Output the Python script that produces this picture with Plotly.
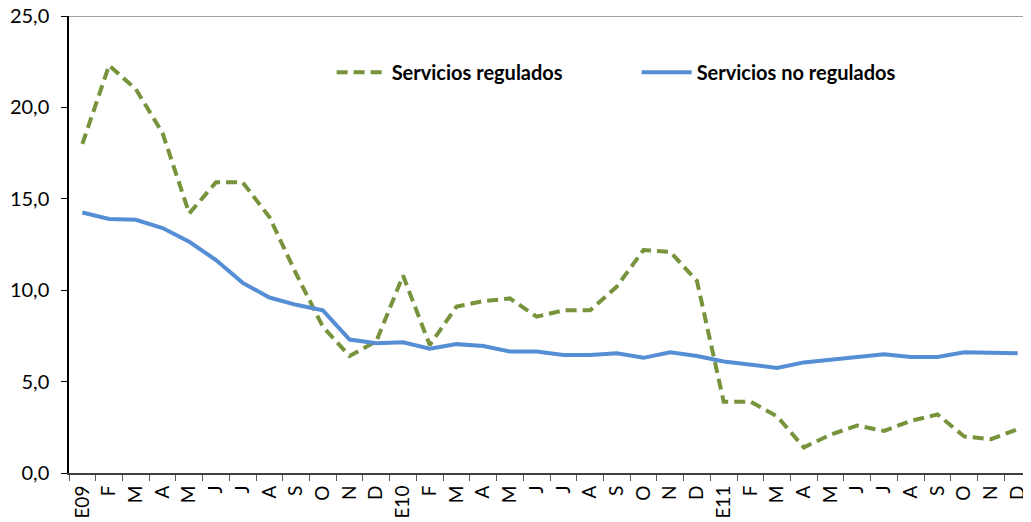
import plotly.graph_objects as go

categories = ["E09","F09","M09","A09","My09","Jn09","Jl09","Ag09","S09","O09","N09","D09",
              "E10","F10","M10","A10","My10","Jn10","Jl10","Ag10","S10","O10","N10","D10",
              "E11","F11","M11","A11","My11","Jn11","Jl11","Ag11","S11","O11","N11","D11"]
tick_labels = ["E09","F","M","A","M","J","J","A","S","O","N","D",
               "E10","F","M","A","M","J","J","A","S","O","N","D",
               "E11","F","M","A","M","J","J","A","S","O","N","D"]

regulados = [18.0, 22.3, 21.0, 18.6, 14.2, 15.9, 15.9, 14.0, 10.9, 8.0, 6.4, 7.2,
             10.8, 7.0, 9.1, 9.4, 9.55, 8.55, 8.9, 8.9, 10.2, 12.2, 12.1, 10.5,
             3.9, 3.9, 3.1, 1.4, 2.1, 2.6, 2.3, 2.85, 3.2, 2.0, 1.85, 2.4]
no_regulados = [14.25, 13.9, 13.85, 13.4, 12.65, 11.65, 10.4, 9.6, 9.2, 8.9, 7.3, 7.1,
                7.15, 6.8, 7.05, 6.95, 6.65, 6.65, 6.45, 6.45, 6.55, 6.3, 6.6, 6.4,
                6.1, 5.95, 5.75, 6.05, 6.2, 6.35, 6.5, 6.35, 6.35, 6.6, 6.6, 6.55]

FONT = "Lato, 'Open Sans', sans-serif"

fig = go.Figure()
fig.add_trace(go.Scatter(x=categories, y=regulados, mode="lines", name="Servicios regulados",
                         line=dict(color="#77933C", width=4, dash="11px,6px")))
fig.add_trace(go.Scatter(x=categories, y=no_regulados, mode="lines", name="Servicios no regulados",
                         line=dict(color="#558ED5", width=4)))

fig.update_layout(
    width=1023, height=514,
    margin=dict(l=61, r=0, t=8, b=49, autoexpand=False),
    paper_bgcolor="white", plot_bgcolor="white",
    separators=",.",
    font=dict(family=FONT, size=17, color="black"),
    showlegend=True,
    legend=dict(orientation="h", x=0.273, xanchor="left", y=0.877, yanchor="middle",
                font=dict(family=FONT, size=20, color="black", weight="bold"),
                itemwidth=50, entrywidth=240, entrywidthmode="pixels",
                bgcolor="rgba(0,0,0,0)"),
    xaxis=dict(type="category", categoryorder="array", categoryarray=categories,
               tickmode="array", tickvals=categories, ticktext=tick_labels,
               tickangle=-90, tickson="boundaries", ticks="outside", ticklen=6,
               tickcolor="#595959", tickwidth=1, automargin=False,
               showline=True, linecolor="#404040", linewidth=2,
               showgrid=False, zeroline=False, range=[-0.5, 35.5],
               ticklabelstandoff=3, ticklabeloverflow="allow",
               tickfont=dict(family=FONT, size=19, color="black")),
    yaxis=dict(range=[0, 25], tickmode="array", tickvals=[0, 5, 10, 15, 20, 25],
               tickformat=".1f", ticks="outside", ticklen=6, tickcolor="black", tickwidth=1,
               showline=True, linecolor="black", linewidth=1.5, automargin=False,
               showgrid=False, zeroline=False, ticklabelstandoff=8,
               ticklabeloverflow="allow",
               tickfont=dict(family=FONT, size=20, color="black")),
    shapes=[dict(type="line", xref="paper", yref="y", x0=0, x1=1, y0=25, y1=25,
                 line=dict(color="#808080", width=1.5))],
)

fig.write_html("out.html")
